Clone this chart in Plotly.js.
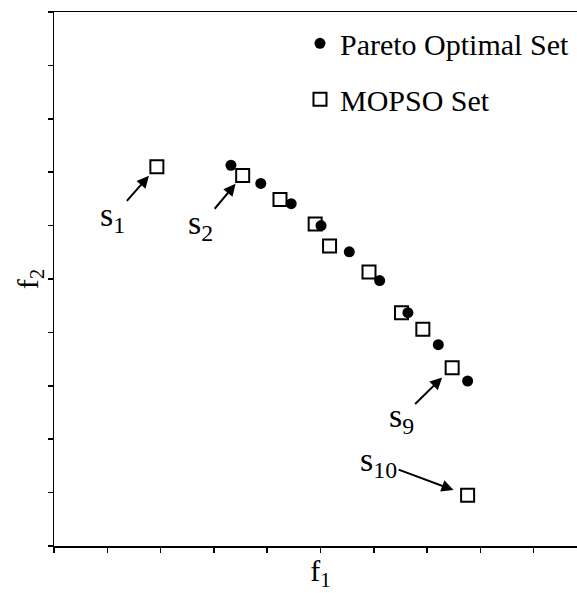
<!DOCTYPE html>
<html>
<head>
<meta charset="utf-8">
<script src="https://cdn.plot.ly/plotly-3.0.1.min.js"></script>
<style>
html, body { margin: 0; padding: 0; overflow: hidden; background: #fff; }
#chart { width: 600px; height: 593px; }
</style>
</head>
<body>
<div id="chart"></div>
<script>
// Pareto optimal set (f1, f2)
const paretoF1 = [3.32, 3.88, 4.45, 5.01, 5.54, 6.11, 6.64, 7.21, 7.76];
const paretoF2 = [7.13, 6.79, 6.41, 6.00, 5.51, 4.97, 4.37, 3.77, 3.09];

// MOPSO set (f1, f2)
const mopsoF1 = [1.93, 3.54, 4.24, 4.90, 5.17, 5.91, 6.52, 6.92, 7.47, 7.76];
const mopsoF2 = [7.10, 6.94, 6.49, 6.03, 5.62, 5.13, 4.37, 4.06, 3.34, 0.95];

// labelled MOPSO solutions: label text and index into the MOPSO set
const labelTexts = ['s<sub>1</sub>', 's<sub>2</sub>', 's<sub>9</sub>', 's<sub>10</sub>'];
const labelIndex = [0, 1, 8, 9];

const tickVals = [0, 1, 2, 3, 4, 5, 6, 7, 8, 9, 10];

// label text offsets (px) relative to the marked point
const labelOffsets = [[-44, 50], [-42, 50], [-51, 50], [-89, -33]];
const labelStandoff = [12, 11, 14, 15];

const serif = 'Liberation Serif';

const traces = [
  {
    name: 'MOPSO Set',
    x: mopsoF1, y: mopsoF2,
    type: 'scatter', mode: 'markers',
    legendgroup: 'b',
    legendrank: 2,
    marker: { symbol: 'square-open', size: 13, color: '#000', line: { width: 2, color: '#000' } },
    hoverinfo: 'x+y'
  },
  {
    name: 'Pareto Optimal Set',
    x: paretoF1, y: paretoF2,
    type: 'scatter', mode: 'markers',
    legendgroup: 'a',
    legendrank: 1,
    marker: { symbol: 'circle', size: 11, color: '#000' },
    hoverinfo: 'x+y'
  }
];

const annotations = labelTexts.map((t, i) => ({
  x: mopsoF1[labelIndex[i]],
  y: mopsoF2[labelIndex[i]],
  xref: 'x', yref: 'y',
  text: t,
  showarrow: true,
  ax: labelOffsets[i][0],
  ay: labelOffsets[i][1],
  arrowhead: 2,
  arrowsize: 1.2,
  arrowwidth: 2,
  arrowcolor: '#000',
  standoff: labelStandoff[i],
  font: { family: serif, size: 34, color: '#000' }
}));

const axisCommon = {
  range: [0, 10],
  tickvals: tickVals,
  showticklabels: false,
  ticks: 'outside',
  ticklen: 5,
  tickwidth: 1.5,
  tickcolor: '#000',
  showline: true,
  linecolor: '#000',
  linewidth: 1.5,
  showgrid: false,
  zeroline: false
};

const layout = {
  width: 600,
  height: 593,
  margin: { l: 54, r: 13, t: 11.5, b: 46.5 },
  paper_bgcolor: '#fff',
  plot_bgcolor: '#fff',
  font: { family: serif, color: '#000' },
  xaxis: Object.assign({}, axisCommon, {
    mirror: true,
    title: { text: 'f<sub>1</sub>', font: { family: serif, size: 30, color: '#000' }, standoff: 8 }
  }),
  yaxis: Object.assign({}, axisCommon, {
    title: { text: 'f<sub>2</sub>', font: { family: serif, size: 30, color: '#000' }, standoff: 0 }
  }),
  showlegend: true,
  legend: {
    x: 0.4615, xanchor: 'left',
    y: 0.99, yanchor: 'top',
    bgcolor: 'rgba(0,0,0,0)',
    font: { family: serif, size: 30, color: '#000' },
    traceorder: 'grouped',
    tracegroupgap: 14
  },
  annotations: annotations
};

Plotly.newPlot('chart', traces, layout, { displayModeBar: false, staticPlot: true });
</script>
</body>
</html>
